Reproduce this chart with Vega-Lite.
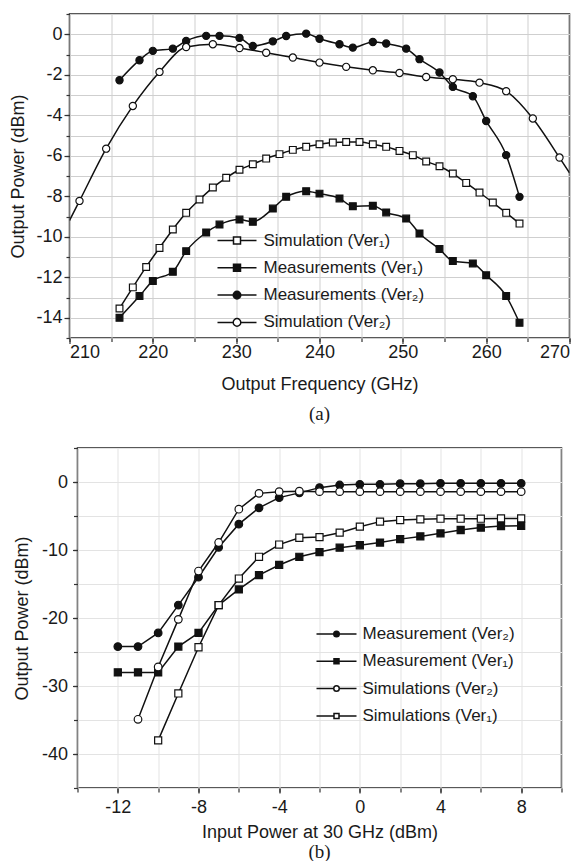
{
  "$schema": "https://vega.github.io/schema/vega-lite/v6.json",
  "padding": {"top": 12, "left": 8.5, "right": 0, "bottom": 0},
  "config": {
    "font": "Liberation Sans",
    "view": {"stroke": "#222", "strokeWidth": 1.5},
    "axis": {"labelFont": "Liberation Sans", "titleFont": "Liberation Sans", "labelFontSize": 18, "titleFontSize": 18, "labelColor": "#1a1a1a", "titleColor": "#1a1a1a", "titleFontWeight": "normal", "domain": false, "tickColor": "#333", "tickWidth": 1.2, "labelExpr": "datum.value + ''"},
    "legend": {"labelFont": "Liberation Sans", "labelFontSize": 17, "labelColor": "#1a1a1a", "labelLimit": 400, "padding": 0, "symbolSize": 100, "symbolOffset": 11.5, "symbolStrokeColor": "#111", "symbolStrokeWidth": 1.5, "symbolOpacity": 1, "title": null},
    "title": {"font": "Liberation Serif", "fontSize": 19, "fontWeight": "normal", "color": "#1a1a1a", "orient": "bottom", "anchor": "middle"}
  },
  "resolve": {"scale": {"fill": "independent"}, "legend": {"fill": "independent"}},
  "datasets": {
    "a": [
      {"s": "Measurements (Ver₂)", "f": 216, "p": -2.27},
      {"s": "Measurements (Ver₂)", "f": 218.4, "p": -1.28},
      {"s": "Measurements (Ver₂)", "f": 220, "p": -0.82},
      {"s": "Measurements (Ver₂)", "f": 222.4, "p": -0.71},
      {"s": "Measurements (Ver₂)", "f": 224, "p": -0.33},
      {"s": "Measurements (Ver₂)", "f": 226.4, "p": -0.08},
      {"s": "Measurements (Ver₂)", "f": 228, "p": -0.08},
      {"s": "Measurements (Ver₂)", "f": 230.4, "p": -0.18},
      {"s": "Measurements (Ver₂)", "f": 232, "p": -0.58},
      {"s": "Measurements (Ver₂)", "f": 234.4, "p": -0.35},
      {"s": "Measurements (Ver₂)", "f": 236, "p": -0.09},
      {"s": "Measurements (Ver₂)", "f": 238.4, "p": 0.03},
      {"s": "Measurements (Ver₂)", "f": 240, "p": -0.22},
      {"s": "Measurements (Ver₂)", "f": 242.4, "p": -0.49},
      {"s": "Measurements (Ver₂)", "f": 244, "p": -0.66},
      {"s": "Measurements (Ver₂)", "f": 246.4, "p": -0.38},
      {"s": "Measurements (Ver₂)", "f": 248, "p": -0.46},
      {"s": "Measurements (Ver₂)", "f": 250.4, "p": -0.71},
      {"s": "Measurements (Ver₂)", "f": 252, "p": -1.23},
      {"s": "Measurements (Ver₂)", "f": 254.4, "p": -1.89},
      {"s": "Measurements (Ver₂)", "f": 256, "p": -2.6},
      {"s": "Measurements (Ver₂)", "f": 258.4, "p": -3.06},
      {"s": "Measurements (Ver₂)", "f": 260, "p": -4.28},
      {"s": "Measurements (Ver₂)", "f": 262.4, "p": -5.97},
      {"s": "Measurements (Ver₂)", "f": 264, "p": -8.03},
      {"s": "Simulation (Ver₂)", "f": 210, "p": -9.2, "shown": false},
      {"s": "Simulation (Ver₂)", "f": 211.2, "p": -8.23},
      {"s": "Simulation (Ver₂)", "f": 214.4, "p": -5.65},
      {"s": "Simulation (Ver₂)", "f": 217.6, "p": -3.54},
      {"s": "Simulation (Ver₂)", "f": 220.8, "p": -1.86},
      {"s": "Simulation (Ver₂)", "f": 224, "p": -0.63},
      {"s": "Simulation (Ver₂)", "f": 227.2, "p": -0.49},
      {"s": "Simulation (Ver₂)", "f": 230.4, "p": -0.68},
      {"s": "Simulation (Ver₂)", "f": 233.6, "p": -0.91},
      {"s": "Simulation (Ver₂)", "f": 236.8, "p": -1.15},
      {"s": "Simulation (Ver₂)", "f": 240, "p": -1.4},
      {"s": "Simulation (Ver₂)", "f": 243.2, "p": -1.61},
      {"s": "Simulation (Ver₂)", "f": 246.4, "p": -1.78},
      {"s": "Simulation (Ver₂)", "f": 249.6, "p": -1.91},
      {"s": "Simulation (Ver₂)", "f": 252.8, "p": -2.11},
      {"s": "Simulation (Ver₂)", "f": 256, "p": -2.22},
      {"s": "Simulation (Ver₂)", "f": 259.2, "p": -2.39},
      {"s": "Simulation (Ver₂)", "f": 262.4, "p": -2.81},
      {"s": "Simulation (Ver₂)", "f": 265.6, "p": -4.16},
      {"s": "Simulation (Ver₂)", "f": 268.8, "p": -6.09},
      {"s": "Simulation (Ver₂)", "f": 270, "p": -6.85, "shown": false},
      {"s": "Simulation (Ver₁)", "f": 216, "p": -13.54},
      {"s": "Simulation (Ver₁)", "f": 217.6, "p": -12.5},
      {"s": "Simulation (Ver₁)", "f": 219.2, "p": -11.49},
      {"s": "Simulation (Ver₁)", "f": 220.8, "p": -10.55},
      {"s": "Simulation (Ver₁)", "f": 222.4, "p": -9.64},
      {"s": "Simulation (Ver₁)", "f": 224, "p": -8.82},
      {"s": "Simulation (Ver₁)", "f": 225.6, "p": -8.16},
      {"s": "Simulation (Ver₁)", "f": 227.2, "p": -7.57},
      {"s": "Simulation (Ver₁)", "f": 228.8, "p": -7.09},
      {"s": "Simulation (Ver₁)", "f": 230.4, "p": -6.69},
      {"s": "Simulation (Ver₁)", "f": 232, "p": -6.42},
      {"s": "Simulation (Ver₁)", "f": 233.6, "p": -6.14},
      {"s": "Simulation (Ver₁)", "f": 235.2, "p": -5.92},
      {"s": "Simulation (Ver₁)", "f": 236.8, "p": -5.71},
      {"s": "Simulation (Ver₁)", "f": 238.4, "p": -5.56},
      {"s": "Simulation (Ver₁)", "f": 240, "p": -5.43},
      {"s": "Simulation (Ver₁)", "f": 241.6, "p": -5.35},
      {"s": "Simulation (Ver₁)", "f": 243.2, "p": -5.32},
      {"s": "Simulation (Ver₁)", "f": 244.8, "p": -5.32},
      {"s": "Simulation (Ver₁)", "f": 246.4, "p": -5.43},
      {"s": "Simulation (Ver₁)", "f": 248, "p": -5.56},
      {"s": "Simulation (Ver₁)", "f": 249.6, "p": -5.76},
      {"s": "Simulation (Ver₁)", "f": 251.2, "p": -5.97},
      {"s": "Simulation (Ver₁)", "f": 252.8, "p": -6.28},
      {"s": "Simulation (Ver₁)", "f": 254.4, "p": -6.52},
      {"s": "Simulation (Ver₁)", "f": 256, "p": -6.88},
      {"s": "Simulation (Ver₁)", "f": 257.6, "p": -7.34},
      {"s": "Simulation (Ver₁)", "f": 259.2, "p": -7.82},
      {"s": "Simulation (Ver₁)", "f": 260.8, "p": -8.31},
      {"s": "Simulation (Ver₁)", "f": 262.4, "p": -8.82},
      {"s": "Simulation (Ver₁)", "f": 264, "p": -9.35},
      {"s": "Measurements (Ver₁)", "f": 216, "p": -14.0},
      {"s": "Measurements (Ver₁)", "f": 218.4, "p": -12.93},
      {"s": "Measurements (Ver₁)", "f": 220, "p": -12.18},
      {"s": "Measurements (Ver₁)", "f": 222.4, "p": -11.73},
      {"s": "Measurements (Ver₁)", "f": 224, "p": -10.71},
      {"s": "Measurements (Ver₁)", "f": 226.4, "p": -9.79},
      {"s": "Measurements (Ver₁)", "f": 228, "p": -9.4},
      {"s": "Measurements (Ver₁)", "f": 230.4, "p": -9.15},
      {"s": "Measurements (Ver₁)", "f": 232, "p": -9.26},
      {"s": "Measurements (Ver₁)", "f": 234.4, "p": -8.61},
      {"s": "Measurements (Ver₁)", "f": 236, "p": -8.03},
      {"s": "Measurements (Ver₁)", "f": 238.4, "p": -7.75},
      {"s": "Measurements (Ver₁)", "f": 240, "p": -7.87},
      {"s": "Measurements (Ver₁)", "f": 242.4, "p": -8.11},
      {"s": "Measurements (Ver₁)", "f": 244, "p": -8.49},
      {"s": "Measurements (Ver₁)", "f": 246.4, "p": -8.47},
      {"s": "Measurements (Ver₁)", "f": 248, "p": -8.8},
      {"s": "Measurements (Ver₁)", "f": 250.4, "p": -9.1},
      {"s": "Measurements (Ver₁)", "f": 252, "p": -9.84},
      {"s": "Measurements (Ver₁)", "f": 254.4, "p": -10.61},
      {"s": "Measurements (Ver₁)", "f": 256, "p": -11.2},
      {"s": "Measurements (Ver₁)", "f": 258.4, "p": -11.32},
      {"s": "Measurements (Ver₁)", "f": 260, "p": -11.9},
      {"s": "Measurements (Ver₁)", "f": 262.4, "p": -12.93},
      {"s": "Measurements (Ver₁)", "f": 264, "p": -14.25}
    ],
    "b": [
      {"s": "Measurement (Ver₂)", "x": -12, "p": -24.2},
      {"s": "Measurement (Ver₂)", "x": -11, "p": -24.2},
      {"s": "Measurement (Ver₂)", "x": -10, "p": -22.2},
      {"s": "Measurement (Ver₂)", "x": -9, "p": -18.1},
      {"s": "Measurement (Ver₂)", "x": -8, "p": -14.0},
      {"s": "Measurement (Ver₂)", "x": -7, "p": -9.6},
      {"s": "Measurement (Ver₂)", "x": -6, "p": -6.2},
      {"s": "Measurement (Ver₂)", "x": -5, "p": -3.8},
      {"s": "Measurement (Ver₂)", "x": -4, "p": -2.3},
      {"s": "Measurement (Ver₂)", "x": -3, "p": -1.6},
      {"s": "Measurement (Ver₂)", "x": -2, "p": -0.83},
      {"s": "Measurement (Ver₂)", "x": -1, "p": -0.44},
      {"s": "Measurement (Ver₂)", "x": 0, "p": -0.34},
      {"s": "Measurement (Ver₂)", "x": 1, "p": -0.34},
      {"s": "Measurement (Ver₂)", "x": 2, "p": -0.25},
      {"s": "Measurement (Ver₂)", "x": 3, "p": -0.25},
      {"s": "Measurement (Ver₂)", "x": 4, "p": -0.2},
      {"s": "Measurement (Ver₂)", "x": 5, "p": -0.2},
      {"s": "Measurement (Ver₂)", "x": 6, "p": -0.2},
      {"s": "Measurement (Ver₂)", "x": 7, "p": -0.2},
      {"s": "Measurement (Ver₂)", "x": 8, "p": -0.2},
      {"s": "Measurement (Ver₁)", "x": -12, "p": -28.0},
      {"s": "Measurement (Ver₁)", "x": -11, "p": -28.0},
      {"s": "Measurement (Ver₁)", "x": -10, "p": -28.0},
      {"s": "Measurement (Ver₁)", "x": -9, "p": -24.2},
      {"s": "Measurement (Ver₁)", "x": -8, "p": -22.2},
      {"s": "Measurement (Ver₁)", "x": -7, "p": -18.1},
      {"s": "Measurement (Ver₁)", "x": -6, "p": -15.8},
      {"s": "Measurement (Ver₁)", "x": -5, "p": -13.7},
      {"s": "Measurement (Ver₁)", "x": -4, "p": -12.2},
      {"s": "Measurement (Ver₁)", "x": -3, "p": -11.0},
      {"s": "Measurement (Ver₁)", "x": -2, "p": -10.3},
      {"s": "Measurement (Ver₁)", "x": -1, "p": -9.66},
      {"s": "Measurement (Ver₁)", "x": 0, "p": -9.3},
      {"s": "Measurement (Ver₁)", "x": 1, "p": -8.9},
      {"s": "Measurement (Ver₁)", "x": 2, "p": -8.4},
      {"s": "Measurement (Ver₁)", "x": 3, "p": -8.0},
      {"s": "Measurement (Ver₁)", "x": 4, "p": -7.55},
      {"s": "Measurement (Ver₁)", "x": 5, "p": -7.06},
      {"s": "Measurement (Ver₁)", "x": 6, "p": -6.7},
      {"s": "Measurement (Ver₁)", "x": 7, "p": -6.47},
      {"s": "Measurement (Ver₁)", "x": 8, "p": -6.45},
      {"s": "Simulations (Ver₂)", "x": -11, "p": -34.9},
      {"s": "Simulations (Ver₂)", "x": -10, "p": -27.2},
      {"s": "Simulations (Ver₂)", "x": -9, "p": -20.2},
      {"s": "Simulations (Ver₂)", "x": -8, "p": -13.1},
      {"s": "Simulations (Ver₂)", "x": -7, "p": -8.9},
      {"s": "Simulations (Ver₂)", "x": -6, "p": -4.0},
      {"s": "Simulations (Ver₂)", "x": -5, "p": -1.67},
      {"s": "Simulations (Ver₂)", "x": -4, "p": -1.42},
      {"s": "Simulations (Ver₂)", "x": -3, "p": -1.35},
      {"s": "Simulations (Ver₂)", "x": -2, "p": -1.42},
      {"s": "Simulations (Ver₂)", "x": -1, "p": -1.42},
      {"s": "Simulations (Ver₂)", "x": 0, "p": -1.42},
      {"s": "Simulations (Ver₂)", "x": 1, "p": -1.42},
      {"s": "Simulations (Ver₂)", "x": 2, "p": -1.42},
      {"s": "Simulations (Ver₂)", "x": 3, "p": -1.42},
      {"s": "Simulations (Ver₂)", "x": 4, "p": -1.42},
      {"s": "Simulations (Ver₂)", "x": 5, "p": -1.42},
      {"s": "Simulations (Ver₂)", "x": 6, "p": -1.42},
      {"s": "Simulations (Ver₂)", "x": 7, "p": -1.42},
      {"s": "Simulations (Ver₂)", "x": 8, "p": -1.42},
      {"s": "Simulations (Ver₁)", "x": -10, "p": -38.0},
      {"s": "Simulations (Ver₁)", "x": -9, "p": -31.1},
      {"s": "Simulations (Ver₁)", "x": -8, "p": -24.3},
      {"s": "Simulations (Ver₁)", "x": -7, "p": -18.1},
      {"s": "Simulations (Ver₁)", "x": -6, "p": -14.2},
      {"s": "Simulations (Ver₁)", "x": -5, "p": -11.0},
      {"s": "Simulations (Ver₁)", "x": -4, "p": -9.2},
      {"s": "Simulations (Ver₁)", "x": -3, "p": -8.2},
      {"s": "Simulations (Ver₁)", "x": -2, "p": -8.1},
      {"s": "Simulations (Ver₁)", "x": -1, "p": -7.45},
      {"s": "Simulations (Ver₁)", "x": 0, "p": -6.57},
      {"s": "Simulations (Ver₁)", "x": 1, "p": -5.83},
      {"s": "Simulations (Ver₁)", "x": 2, "p": -5.59},
      {"s": "Simulations (Ver₁)", "x": 3, "p": -5.49},
      {"s": "Simulations (Ver₁)", "x": 4, "p": -5.4},
      {"s": "Simulations (Ver₁)", "x": 5, "p": -5.4},
      {"s": "Simulations (Ver₁)", "x": 6, "p": -5.4},
      {"s": "Simulations (Ver₁)", "x": 7, "p": -5.35},
      {"s": "Simulations (Ver₁)", "x": 8, "p": -5.35}
    ]
  },
  "columns": 1,
  "bounds": "flush",
  "center": true,
  "spacing": 110,
  "concat": [
    {
      "width": 500,
      "height": 324,
      "title": {"text": "(a)", "offset": 11},
      "data": {"name": "a"},
      "layer": [
        {
          "mark": {"type": "line", "interpolate": "monotone", "color": "#111", "strokeWidth": 1.5, "clip": true},
          "encoding": {
            "x": {"field": "f", "type": "quantitative", "scale": {"domain": [210, 270], "nice": false, "zero": false},
                  "axis": {"orient": "bottom", "values": [210, 215, 220, 225, 230, 235, 240, 245, 250, 255, 260, 265, 270], "labels": false, "title": null, "tickSize": 3.5, "grid": true, "gridColor": "#cfcfcf", "gridWidth": 1}},
            "y": {"field": "p", "type": "quantitative", "scale": {"domain": [-15, 1], "nice": false, "zero": false},
                  "axis": {"orient": "left", "values": [-15, -14, -13, -12, -11, -10, -9, -8, -7, -6, -5, -4, -3, -2, -1, 0, 1], "labels": false, "title": null, "tickSize": 3.5, "grid": true, "gridColor": "#cfcfcf", "gridWidth": 1}},
            "detail": {"field": "s"}
          }
        },
        {
          "transform": [{"filter": "datum.shown !== false && indexof(datum.s, '₁') >= 0"}],
          "mark": {"type": "point", "shape": "square", "filled": true, "opacity": 1, "stroke": "#111", "strokeWidth": 1.2, "size": 46, "clip": true},
          "encoding": {
            "x": {"field": "f", "type": "quantitative",
                  "axis": {"orient": "bottom", "values": [210, 220, 230, 240, 250, 260, 270], "title": "Output Frequency (GHz)", "tickSize": 5.5, "labelPadding": 0, "titlePadding": 14, "grid": false}},
            "y": {"field": "p", "type": "quantitative",
                  "axis": {"orient": "left", "values": [-14, -12, -10, -8, -6, -4, -2, 0], "title": "Output Power (dBm)", "tickSize": 5.5, "labelPadding": 2, "titlePadding": 8, "grid": false}},
            "fill": {"field": "s", "type": "nominal",
                     "scale": {"domain": ["Simulation (Ver₁)", "Measurements (Ver₁)"], "range": ["white", "#111"]},
                     "legend": {"orient": "none", "legendX": 147.5, "legendY": 218, "labelOffset": 18, "rowPadding": 9.3,
                                "symbolType": "M-3.9,0H-0.7M0.7,0H3.9M-0.7,-0.7H0.7V0.7H-0.7Z"}}
          }
        },
        {
          "transform": [{"filter": "datum.shown !== false && indexof(datum.s, '₁') < 0"}],
          "mark": {"type": "point", "shape": "circle", "filled": true, "opacity": 1, "stroke": "#111", "strokeWidth": 1.2, "size": 52, "clip": true},
          "encoding": {
            "x": {"field": "f", "type": "quantitative", "axis": null},
            "y": {"field": "p", "type": "quantitative", "axis": null},
            "fill": {"field": "s", "type": "nominal",
                     "scale": {"domain": ["Measurements (Ver₂)", "Simulation (Ver₂)"], "range": ["#111", "white"]},
                     "legend": {"orient": "none", "legendX": 147.5, "legendY": 272.6, "labelOffset": 18, "rowPadding": 9.3,
                                "symbolType": "M-3.9,0H-0.76M0.76,0H3.9M0.76,0C0.76,0.42,0.42,0.76,0,0.76C-0.42,0.76,-0.76,0.42,-0.76,0C-0.76,-0.42,-0.42,-0.76,0,-0.76C0.42,-0.76,0.76,-0.42,0.76,0Z"}}
          }
        }
      ],
      "resolve": {"axis": {"x": "independent", "y": "independent"}, "scale": {"fill": "independent"}, "legend": {"fill": "independent"}}
    },
    {
      "width": 484,
      "height": 340,
      "title": {"text": "(b)", "offset": 1.5},
      "data": {"name": "b"},
      "layer": [
        {
          "mark": {"type": "line", "interpolate": "linear", "color": "#111", "strokeWidth": 1.5, "clip": true},
          "encoding": {
            "x": {"field": "x", "type": "quantitative", "scale": {"domain": [-14, 10], "nice": false, "zero": false},
                  "axis": {"orient": "bottom", "values": [-14, -12, -10, -8, -6, -4, -2, 0, 2, 4, 6, 8, 10], "labels": false, "title": null, "tickSize": 4, "grid": true, "gridColor": "#e3e3e3", "gridWidth": 1}},
            "y": {"field": "p", "type": "quantitative", "scale": {"domain": [-45, 5], "nice": false, "zero": false},
                  "axis": {"orient": "left", "values": [-45, -40, -35, -30, -25, -20, -15, -10, -5, 0, 5], "labels": false, "title": null, "tickSize": 4, "grid": true, "gridColor": "#e3e3e3", "gridWidth": 1}},
            "detail": {"field": "s"}
          }
        },
        {
          "transform": [{"filter": "indexof(datum.s, '₁') >= 0"}],
          "mark": {"type": "point", "shape": "square", "filled": true, "opacity": 1, "stroke": "#111", "strokeWidth": 1.2, "size": 50, "clip": true},
          "encoding": {
            "x": {"field": "x", "type": "quantitative",
                  "axis": {"orient": "bottom", "values": [-12, -8, -4, 0, 4, 8], "title": "Input Power at 30 GHz (dBm)", "tickSize": 5, "labelPadding": 5, "titlePadding": 7.5, "grid": false}},
            "y": {"field": "p", "type": "quantitative",
                  "axis": {"orient": "left", "values": [-40, -30, -20, -10, 0], "title": "Output Power (dBm)", "tickSize": 5, "labelPadding": 5, "titlePadding": 10, "grid": false}},
            "fill": {"field": "s", "type": "nominal",
                     "scale": {"domain": ["Measurement (Ver₁)", "Simulations (Ver₁)"], "range": ["#111", "white"]},
                     "legend": {"orient": "none", "legendX": 239, "legendY": 204.8, "labelOffset": 17.5, "rowPadding": 36.6,
                                "symbolType": "M-4,0H-0.5M0.5,0H4M-0.5,-0.5H0.5V0.5H-0.5Z"}}
          }
        },
        {
          "transform": [{"filter": "indexof(datum.s, '₁') < 0"}],
          "mark": {"type": "point", "shape": "circle", "filled": true, "opacity": 1, "stroke": "#111", "strokeWidth": 1.2, "size": 58, "clip": true},
          "encoding": {
            "x": {"field": "x", "type": "quantitative", "axis": null},
            "y": {"field": "p", "type": "quantitative", "axis": null},
            "fill": {"field": "s", "type": "nominal",
                     "scale": {"domain": ["Measurement (Ver₂)", "Simulations (Ver₂)"], "range": ["#111", "white"]},
                     "legend": {"orient": "none", "legendX": 239, "legendY": 177.5, "labelOffset": 17.5, "rowPadding": 36.6,
                                "symbolType": "M-4,0H-0.55M0.55,0H4M0.55,0C0.55,0.3,0.3,0.55,0,0.55C-0.3,0.55,-0.55,0.3,-0.55,0C-0.55,-0.3,-0.3,-0.55,0,-0.55C0.3,-0.55,0.55,-0.3,0.55,0Z"}}
          }
        }
      ],
      "resolve": {"axis": {"x": "independent", "y": "independent"}, "scale": {"fill": "independent"}, "legend": {"fill": "independent"}}
    }
  ]
}
